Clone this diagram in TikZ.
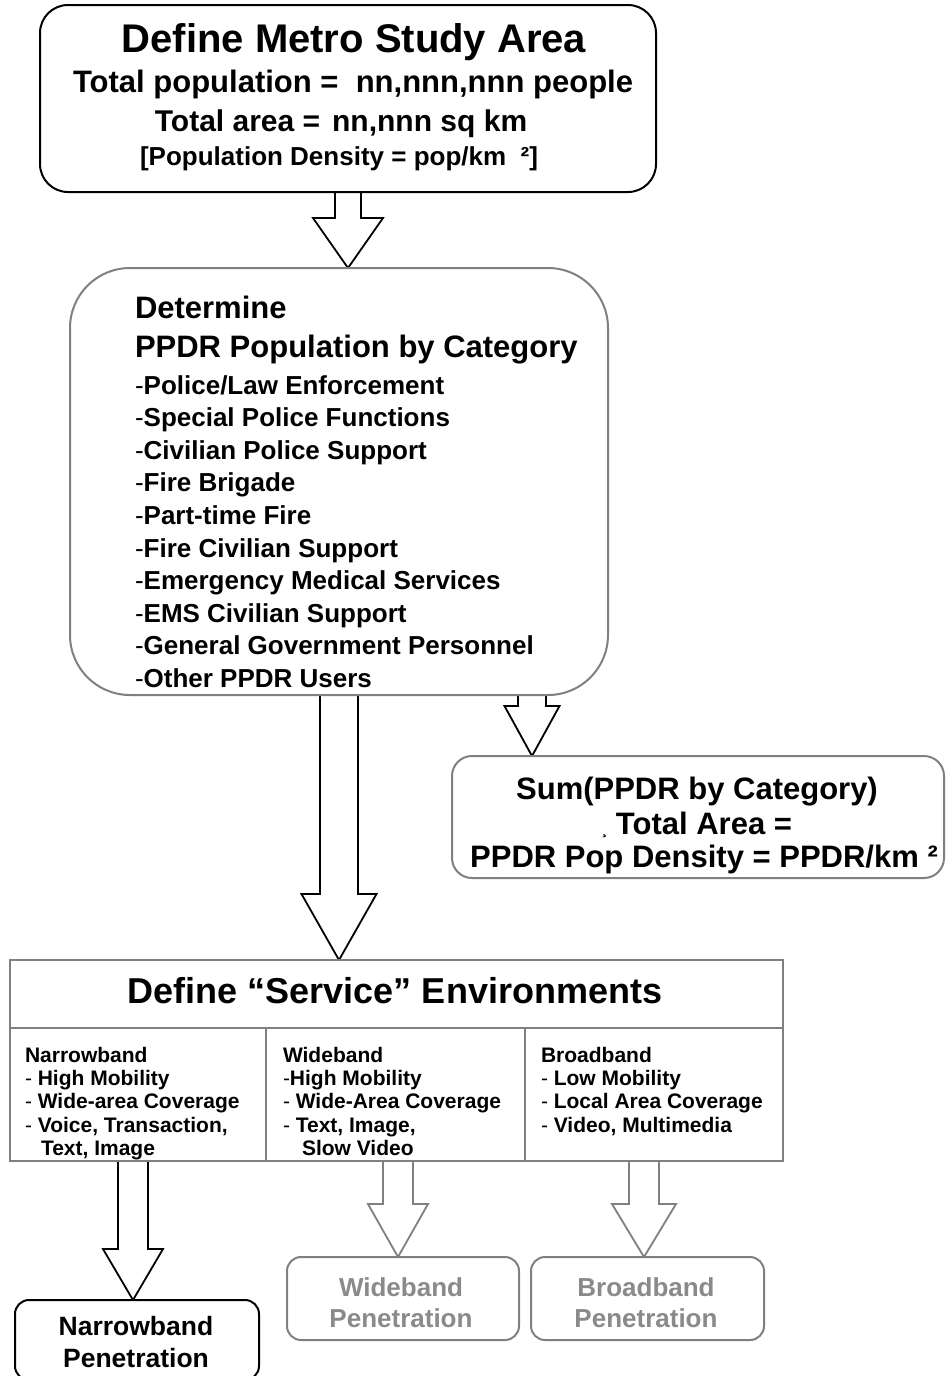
\documentclass[tikz,border=0pt]{standalone}
\usepackage{fontspec}
\setmainfont{Liberation Sans}
\usetikzlibrary{calc}
\definecolor{lgray}{RGB}{128,128,128}
\definecolor{tgray}{RGB}{138,138,138}
\pgfdeclarelayer{bg}
\pgfsetlayers{bg,main}
\newcommand\fs[1]{\fontsize{#1}{#1}\selectfont}
\newcommand\blockarrow[6]{%
  \path[#1] let \p1=(#2), \p2=(#3) in
    (\x1-#4pt,\y1) -- (\x1-#4pt,\y2+#6pt) -- (\x1-#5pt,\y2+#6pt) -- (\x1,\y2)
    -- (\x1+#5pt,\y2+#6pt) -- (\x1+#4pt,\y2+#6pt) -- (\x1+#4pt,\y1);}
\tikzset{
  box/.style={draw, line width=2pt, inner sep=0pt, outer sep=0pt, fill=white},
  blkbox/.style={box, draw=black},
  grybox/.style={box, draw=lgray},
  t/.style={inner sep=0pt, outer sep=0pt, font=\bfseries},
  arr/.style={draw=black, line width=1.8pt, fill=white, line join=miter},
  garr/.style={draw=lgray, line width=1.8pt, fill=white, line join=miter},
}
\begin{document}
\begin{tikzpicture}[x=1pt, y=-1pt]
\begin{pgfonlayer}{bg}
  \fill[white] (0,0) rectangle (946,1376);
\end{pgfonlayer}
\useasboundingbox (0,0) rectangle (946,1376);

% boxes
\node[blkbox, rounded corners=28pt, minimum width=616pt, minimum height=187pt] (top) at (348,98.5) {};
\node[grybox, rounded corners=60pt, minimum width=538pt, minimum height=427pt] (ppdr) at (339,481.5) {};
\node[grybox, rounded corners=20pt, minimum width=492pt, minimum height=122pt] (sum) at (698,817) {};
\node[grybox, minimum width=773pt, minimum height=68pt] (env) at (396.5,994) {};
\node[grybox, minimum width=256pt, minimum height=133pt] (nbc) at (138,1094.5) {};
\node[grybox, minimum width=259pt, minimum height=133pt] (wbc) at (395.5,1094.5) {};
\node[grybox, minimum width=258pt, minimum height=133pt] (bbc) at (654,1094.5) {};
\node[blkbox, rounded corners=14pt, minimum width=244pt, minimum height=80pt] (nb) at (137,1340) {};
\node[grybox, rounded corners=14pt, minimum width=232pt, minimum height=83pt] (wb) at (403,1298.5) {};
\node[grybox, rounded corners=14pt, minimum width=233pt, minimum height=83pt] (bb) at (647.5,1298.5) {};

% top box text
\node[t, anchor=base, font=\bfseries\fs{40}] (tt1) at (354,52) {Define Metro Study Area};
\node[t, anchor=base, font=\bfseries\fs{31}] (tt2) at (353,92) {Total population =\ \ nn,nnn,nnn people};
\node[t, anchor=base, font=\bfseries\fs{30}] (tt3) at (341,131) {Total area =\hspace{12pt}nn,nnn sq km};
\node[t, anchor=base, font=\bfseries\fs{26}] (tt4) at (339,165) {[Population Density = pop/km\ \ ²]};

% ppdr text
\node[t, anchor=base west, font=\bfseries\fs{31}] (ph1) at (135,318) {Determine};
\node[t, anchor=base west, font=\bfseries\fs{31}] (ph2) at (135,357) {PPDR Population by Category};
\foreach \itm [count=\i from 0] in {Police/Law Enforcement, Special Police Functions,
  Civilian Police Support, Fire Brigade, Part-time Fire, Fire Civilian Support,
  Emergency Medical Services, EMS Civilian Support, General Government Personnel,
  Other PPDR Users}
  \node[t, anchor=base west, font=\bfseries\fs{26}] (pi\i) at (135,394+32.6*\i) {{\mdseries -}\itm};

% sum text
\node[t, anchor=base, font=\bfseries\fs{31}] (st1) at (697,799) {Sum(PPDR by Category)};
\node[t, anchor=base, font=\bfseries\fs{31}] (st2) at (697,834) {{\fs{16}¸}\ Total Area =};
\node[t, anchor=base, font=\bfseries\fs{31}] (st3) at (704,867) {PPDR Pop Density = PPDR/km ²};

% environments
\node[t, anchor=base, font=\bfseries\fs{36}] (et) at (395,1003) {Define “Service” Environments};
\foreach \itm [count=\i from 0] in {Narrowband, {{\mdseries -} High Mobility},
  {{\mdseries -} Wide-area Coverage}, {{\mdseries -} Voice, Transaction,}, {\hspace{16pt}Text, Image}}
  \node[t, anchor=base west, font=\bfseries\fs{21}] (nt\i) at (25,1062+23.4*\i) {\itm};
\foreach \itm [count=\i from 0] in {Wideband, {{\mdseries -}High Mobility},
  {{\mdseries -} Wide-Area Coverage}, {{\mdseries -} Text, Image,}, {\hspace{19pt}Slow Video}}
  \node[t, anchor=base west, font=\bfseries\fs{21}] (wt\i) at (283,1062+23.4*\i) {\itm};
\foreach \itm [count=\i from 0] in {Broadband, {{\mdseries -} Low Mobility},
  {{\mdseries -} Local Area Coverage}, {{\mdseries -} Video, Multimedia}}
  \node[t, anchor=base west, font=\bfseries\fs{21}] (bt\i) at (541,1062+23.4*\i) {\itm};

% penetration boxes text
\node[t, anchor=base, font=\bfseries\fs{26.5}] (nb1) at (136,1335) {Narrowband};
\node[t, anchor=base, font=\bfseries\fs{26.5}] (nb2) at (136,1367) {Penetration};
\node[t, anchor=base, font=\bfseries\fs{26}, text=tgray] (wb1) at (401,1296) {Wideband};
\node[t, anchor=base, font=\bfseries\fs{26}, text=tgray] (wb2) at (401,1327) {Penetration};
\node[t, anchor=base, font=\bfseries\fs{26}, text=tgray] (bb1) at (646,1296) {Broadband};
\node[t, anchor=base, font=\bfseries\fs{26}, text=tgray] (bb2) at (646,1327) {Penetration};

% block arrows
\coordinate (a3s) at (532,695);
\coordinate (a4s) at (133,1161);
\coordinate (a5s) at (398,1161);
\coordinate (a6s) at (644,1161);
\begin{pgfonlayer}{bg}
  \blockarrow{arr}{top.south}{top.south |- ppdr.north}{13}{35}{50}
  \blockarrow{arr}{ppdr.south}{ppdr.south |- env.north}{19}{37.5}{66}
  \blockarrow{arr}{a3s}{a3s |- sum.north}{14}{27.5}{50}
  \blockarrow{arr}{a4s}{a4s |- nb.north}{15}{30}{51}
  \blockarrow{garr}{a5s}{a5s |- wb.north}{15}{30}{53}
  \blockarrow{garr}{a6s}{a6s |- bb.north}{15}{32}{53}
\end{pgfonlayer}
\end{tikzpicture}
\end{document}
